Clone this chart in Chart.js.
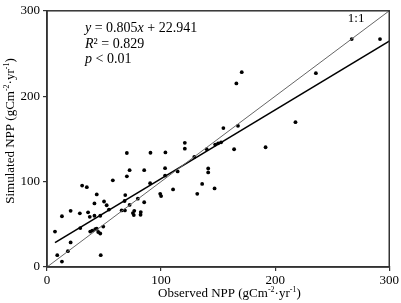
<!DOCTYPE html>
<html>
<head>
<meta charset="utf-8">
<script src="https://cdn.jsdelivr.net/npm/chart.js@4/dist/chart.umd.min.js"></script>
<style>
  html, body { margin: 0; padding: 0; background: #fff; }
  #wrap { width: 401px; height: 303px; }
</style>
</head>
<body>
<div id="wrap"><canvas id="nppChart" width="401" height="303"></canvas></div>
<script>
// observed vs simulated NPP (gCm-2.yr-1)
const observed = [7.0, 9.0, 13.1, 13.1, 20.7, 20.7, 18.3, 28.8, 29.2, 30.8,
  34.9, 36.0, 37.5, 37.9, 39.7, 41.6, 41.6, 42.3, 43.6, 43.6,
  44.9, 46.7, 46.7, 47.1, 49.3, 50.0, 52.3, 54.3, 57.7, 65.4,
  68.3, 68.0, 68.6, 70.0, 70.0, 72.4, 72.4, 75.3, 76.1, 76.5,
  79.6, 82.0, 82.2, 85.2, 85.2, 90.7, 90.4, 99.2, 100.0, 103.5,
  103.5, 103.8, 110.5, 114.5, 129.1, 131.7, 120.8, 120.8, 140.0, 147.4,
  150.0, 152.6, 154.6, 167.4, 164.0, 166.0, 170.7, 191.6, 217.8, 235.7,
  267.1, 291.9, 141.3, 141.3, 136.0, 146.9];
const simulated = [41.5, 13.8, 6.3, 59.4, 65.8, 28.8, 18.5, 62.9, 45.6, 95.4,
  93.5, 64.0, 58.8, 41.5, 42.7, 60.0, 74.4, 44.4, 85.0, 45.0,
  41.0, 39.2, 60.0, 13.8, 47.3, 76.7, 72.3, 67.3, 101.5, 66.3,
  66.3, 77.3, 84.2, 106.2, 133.5, 113.4, 72.7, 63.1, 60.8, 65.8,
  80.0, 61.2, 64.3, 75.8, 113.4, 133.8, 98.1, 85.7, 83.1, 115.7,
  107.0, 134.2, 90.8, 111.9, 128.9, 85.7, 145.4, 138.5, 138.0, 143.4,
  144.8, 146.0, 162.7, 165.3, 137.9, 215.0, 228.1, 140.2, 169.6, 227.0,
  266.9, 266.9, 115.4, 110.8, 97.3, 92.0];

// fitted line y = 0.805x + 22.941 and the 1:1 line
const slope = 0.805;
const intercept = 22.941;
const fitRange = [7, 300];
const oneToOne = [0, 300];
const axisTicks = [0, 100, 200, 300];

const serif = '"Liberation Serif", "Times New Roman", serif';
const ink = '#333';

const points = observed.map((x, i) => ({ x: x, y: simulated[i] }));
const fitLine = fitRange.map(x => ({ x: x, y: slope * x + intercept }));
const refLine = oneToOne.map(v => ({ x: v, y: v }));

// unit label pieces: [text, superscript?]
const unitParts = [['(gCm', false], ['-2', true], ['·yr', false], ['-1', true], [')', false]];

// draws a run of text with small raised superscripts, centred on (0,0)
function drawRich(ctx, parts, size) {
  const fontFor = sup => (sup ? Math.round(size * 0.62) : size) + 'px ' + serif;
  let total = 0;
  parts.forEach(([t, sup]) => { ctx.font = fontFor(sup); total += ctx.measureText(t).width; });
  let x = -total / 2;
  parts.forEach(([t, sup]) => {
    ctx.font = fontFor(sup);
    ctx.fillText(t, x, sup ? -size * 0.32 : 0);
    x += ctx.measureText(t).width;
  });
}

// frame, axis titles, "1:1" and the regression text
const extras = {
  id: 'extras',
  afterDatasetsDraw(chart) {
    const { ctx, chartArea: a, scales } = chart;
    ctx.save();
    ctx.strokeStyle = ink;
    ctx.lineWidth = 1.5;
    ctx.strokeRect(a.left, a.top, a.right - a.left, a.bottom - a.top);

    ctx.fillStyle = '#000';
    ctx.textBaseline = 'middle';
    ctx.textAlign = 'left';

    // x title
    ctx.save();
    ctx.translate(a.left + (a.right - a.left) * 0.533, 294);
    drawRich(ctx, [['Observed NPP ', false]].concat(unitParts), 13);
    ctx.restore();

    // y title
    ctx.save();
    ctx.translate(11, 131);
    ctx.rotate(-Math.PI / 2);
    drawRich(ctx, [['Simulated NPP ', false]].concat(unitParts), 13);
    ctx.restore();

    ctx.font = '13px ' + serif;
    ctx.textAlign = 'center';
    ctx.fillText('1:1', scales.x.getPixelForValue(271), scales.y.getPixelForValue(291));

    ctx.textAlign = 'left';
    const lines = [
      [['y', true], [' = 0.805', false], ['x', true], [' + 22.941', false]],
      [['R', true], ['²', false], [' = 0.829', false]],
      [['p', true], [' < 0.01', false]]
    ];
    const x0 = a.left + 38;
    lines.forEach((parts, row) => {
      let x = x0;
      const y = a.top + 18 + row * 15.5;
      parts.forEach(([txt, italic]) => {
        ctx.font = (italic ? 'italic ' : '') + '14px ' + serif;
        ctx.fillText(txt, x, y);
        x += ctx.measureText(txt).width;
      });
    });
    ctx.restore();
  }
};

const ctx = document.getElementById('nppChart').getContext('2d');
const nppChart = new Chart(ctx, {
  type: 'scatter',
  data: {
    datasets: [
      {
        label: '1:1',
        type: 'line',
        data: refLine,
        borderColor: '#666',
        borderWidth: 1,
        pointRadius: 0,
        fill: false
      },
      {
        label: 'Fit',
        type: 'line',
        data: fitLine,
        borderColor: '#000',
        borderWidth: 1.6,
        pointRadius: 0,
        fill: false
      },
      {
        label: 'Sites',
        data: points,
        backgroundColor: '#000',
        borderColor: '#000',
        pointRadius: 1.9,
        borderWidth: 0
      }
    ]
  },
  options: {
    responsive: false,
    animation: false,
    layout: { padding: { top: 7, right: 10, left: 0, bottom: 0 } },
    plugins: {
      legend: { display: false },
      tooltip: { enabled: false }
    },
    scales: {
      x: {
        type: 'linear',
        min: 0,
        max: 300,
        afterBuildTicks: s => { s.ticks = axisTicks.map(v => ({ value: v })); },
        afterFit: s => { s.height = 36; },
        grid: { drawOnChartArea: false, drawTicks: true, tickLength: 4, color: ink, lineWidth: 1.2 },
        border: { display: true, color: ink, width: 1.5 },
        ticks: { color: '#000', font: { family: serif, size: 13 }, padding: 2, maxRotation: 0 }
      },
      y: {
        type: 'linear',
        min: 0,
        max: 300,
        afterBuildTicks: s => { s.ticks = axisTicks.map(v => ({ value: v })); },
        afterFit: s => { s.width = 47; },
        grid: { drawOnChartArea: false, drawTicks: true, tickLength: 4, color: ink, lineWidth: 1.2 },
        border: { display: true, color: ink, width: 1.5 },
        ticks: { color: '#000', font: { family: serif, size: 13 }, padding: 3 }
      }
    }
  },
  plugins: [extras]
});
</script>
</body>
</html>
